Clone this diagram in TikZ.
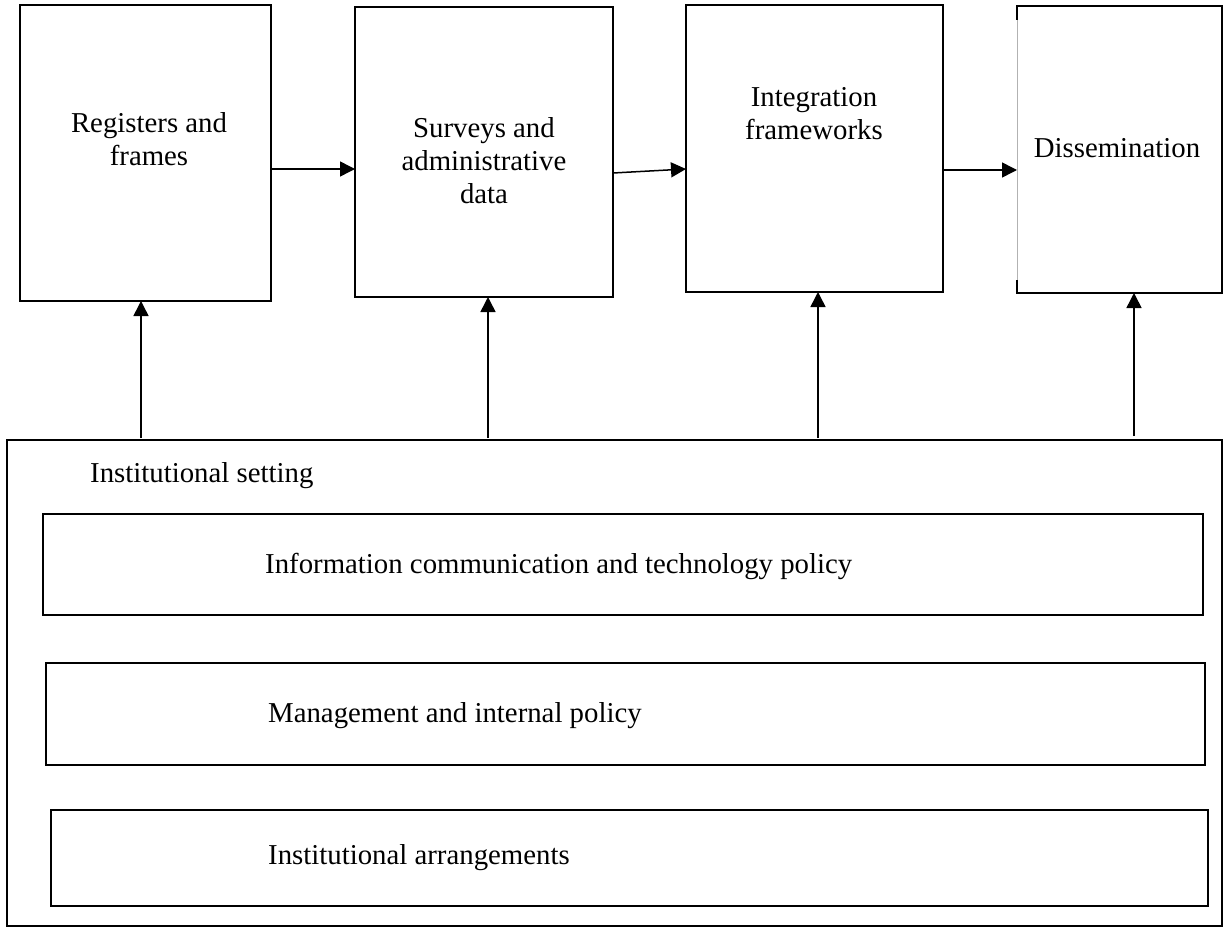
\documentclass[tikz,border=0pt]{standalone}
\usepackage{fontspec}
\setmainfont{Liberation Serif}
\usetikzlibrary{arrows.meta}
\begin{document}
\begin{tikzpicture}[x=1pt,y=-1pt,
  box/.style={draw, line width=1.5pt, inner sep=0pt, outer sep=0pt, anchor=north west},
  plainbox/.style={inner sep=0pt, outer sep=0pt, anchor=north west},
  lbl/.style={font=\fontsize{28.8}{33}\selectfont, align=center, inner sep=0pt},
  arr/.style={line width=1.5pt, -{Triangle[length=15pt,width=15pt]}}]
\useasboundingbox (0,0) rectangle (1224,928);
% top boxes
\node[box, minimum width=251pt, minimum height=296pt] (b1) at (20,5) {};
\node[box, minimum width=258pt, minimum height=290pt] (b2) at (355,7) {};
\node[box, minimum width=257pt, minimum height=287pt] (b3) at (686,5) {};
\node[plainbox, minimum width=205pt, minimum height=287pt] (b4) at (1017,6) {};
\draw[line width=1.5pt] ([yshift=-14pt]b4.north west) -- (b4.north west) -- (b4.north east)
  -- (b4.south east) -- (b4.south west) -- ([yshift=13pt]b4.south west);
\draw[gray!60, line width=0.7pt] ([yshift=-14pt]b4.north west) -- ([yshift=13pt]b4.south west);
% labels
\node[lbl] (t1) at (149,139) {Registers and\\frames};
\node[lbl] (t2) at (484,161) {Surveys and\\administrative\\data};
\node[lbl] (t3) at (814,114) {Integration\\frameworks};
\node[lbl] (t4) at (1117,148) {Dissemination};
% big box
\node[box, minimum width=1215pt, minimum height=486pt] (big) at (7,440) {};
\node[lbl, anchor=west] (ts) at (90,476) {Institutional setting};
\node[box, minimum width=1160pt, minimum height=101pt] (i1) at (43,514) {};
\node[box, minimum width=1159pt, minimum height=102pt] (i2) at (46,663) {};
\node[box, minimum width=1157pt, minimum height=96pt] (i3) at (51,810) {};
\node[lbl, anchor=west] (l1) at (265,566) {Information communication and technology policy};
\node[lbl, anchor=west] (l2) at (268,716) {Management and internal policy};
\node[lbl, anchor=west] (l3) at (268,858) {Institutional arrangements};
% horizontal arrows
\draw[arr] (b1.east |- 0,169) -- (b2.west |- 0,169);
\draw[arr] (b2.east |- 0,173) -- (b3.west |- 0,169);
\draw[arr] (b3.east |- 0,170) -- (b4.west |- 0,170);
% vertical arrows
\draw[arr] ([yshift=2pt]big.north -| 141,0) -- (b1.south -| 141,0);
\draw[arr] ([yshift=2pt]big.north -| 488,0) -- (b2.south -| 488,0);
\draw[arr] ([yshift=2pt]big.north -| 818,0) -- (b3.south -| 818,0);
\draw[arr] ([yshift=4pt]big.north -| 1134,0) -- (b4.south -| 1134,0);
\end{tikzpicture}
\end{document}
